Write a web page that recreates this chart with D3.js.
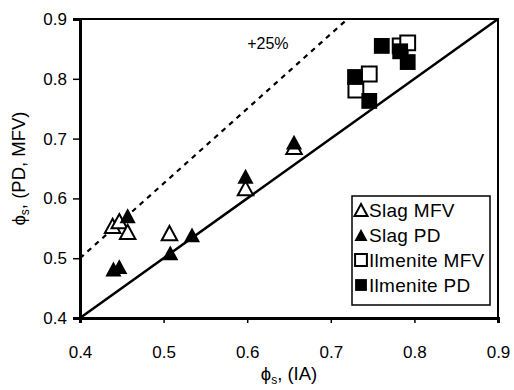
<!DOCTYPE html>
<html>
<head>
<meta charset="utf-8">
<script src="https://cdn.jsdelivr.net/npm/d3@7"></script>
<style>
  body { margin: 0; background: #fff; }
  svg { font-family: "Liberation Sans", Arial, Helvetica, sans-serif; }
</style>
</head>
<body>
<div id="chart"></div>
<script>
// values: [phi_s (IA), phi_s (PD or MFV)]
var slagMFV = [[0.439, 0.554], [0.447, 0.562], [0.457, 0.544], [0.507, 0.542], [0.598, 0.617], [0.656, 0.686]];
var slagPD = [[0.440, 0.482], [0.447, 0.486], [0.457, 0.571], [0.508, 0.509], [0.534, 0.539], [0.598, 0.637], [0.656, 0.694]];
var ilmMFV = [[0.730, 0.781], [0.746, 0.808], [0.783, 0.855], [0.792, 0.860]];
var ilmPD = [[0.729, 0.803], [0.746, 0.763], [0.761, 0.855], [0.783, 0.846], [0.792, 0.828]];
var xTicks = [0.4, 0.5, 0.6, 0.7, 0.8, 0.9];
var yTicks = [0.4, 0.5, 0.6, 0.7, 0.8, 0.9];
var parityLine = [[0.4, 0.4], [0.9, 0.9]];
var plus25Line = [[0.4, 0.5], [0.72, 0.9]];
var legendNames = ["Slag MFV", "Slag PD", "Ilmenite MFV", "Ilmenite PD"];

var margin = { top: 19, right: 16, bottom: 72, left: 80 },
    width = 514 - margin.left - margin.right,
    height = 390 - margin.top - margin.bottom;

var svg = d3.select("#chart")
    .append("svg")
    .attr("width", 514)
    .attr("height", 390);

var g = svg.append("g")
    .attr("transform", "translate(" + margin.left + "," + margin.top + ")");

var x = d3.scaleLinear().domain([0.4, 0.9]).range([0, width]);
var y = d3.scaleLinear().domain([0.4, 0.9]).range([height, 0]);

// triangle centred on its bounding box
var triType = {
    draw: function(ctx, size) {
        var s = Math.sqrt(size);
        var h = s * 0.92;
        ctx.moveTo(0, -h / 2);
        ctx.lineTo(s / 2, h / 2);
        ctx.lineTo(-s / 2, h / 2);
        ctx.closePath();
    }
};
var sqType = {
    draw: function(ctx, size) {
        var s = Math.sqrt(size);
        ctx.rect(-s / 2, -s / 2, s, s);
    }
};

// frame
g.append("rect")
    .attr("x", 0).attr("y", 0)
    .attr("width", width).attr("height", height)
    .attr("fill", "none")
    .attr("stroke", "#000")
    .attr("stroke-width", 2);

// axes
var xAxis = g.append("g")
    .attr("transform", "translate(0," + height + ")")
    .call(d3.axisBottom(x).tickValues(xTicks).tickSize(5).tickPadding(35).tickFormat(d3.format(".1f")));
var yAxis = g.append("g")
    .call(d3.axisLeft(y).tickValues(yTicks).tickSize(7).tickPadding(6).tickFormat(d3.format(".1f")));

[xAxis, yAxis].forEach(function(a) {
    a.select(".domain").attr("stroke-width", 3);
    a.selectAll(".tick line").attr("stroke-width", 1.5);
    a.selectAll(".tick text")
        .attr("font-family", "Liberation Sans, Arial, sans-serif")
        .style("font-size", "17px")
        .attr("fill", "#000");
});
xAxis.selectAll(".tick text").attr("dy", "0em");

// lines
var line = d3.line()
    .x(function(d) { return x(d[0]); })
    .y(function(d) { return y(d[1]); });

g.append("path")
    .datum(parityLine)
    .attr("d", line)
    .attr("fill", "none")
    .attr("stroke", "#000")
    .attr("stroke-width", 2.5);

g.append("path")
    .datum(plus25Line)
    .attr("d", line)
    .attr("fill", "none")
    .attr("stroke", "#000")
    .attr("stroke-width", 2.2)
    .attr("stroke-dasharray", "5,5");

g.append("text")
    .attr("x", x(0.6))
    .attr("y", y(0.85))
    .style("font-size", "16px")
    .text("+25%");

// points
var series = [
    { data: slagMFV, type: triType, size: 240, fill: "#fff" },
    { data: slagPD, type: triType, size: 260, fill: "#000" },
    { data: ilmMFV, type: sqType, size: 220, fill: "#fff" },
    { data: ilmPD, type: sqType, size: 250, fill: "#000" }
];

series.forEach(function(s) {
    g.selectAll(null)
        .data(s.data)
        .enter()
        .append("path")
        .attr("transform", function(d) { return "translate(" + x(d[0]) + "," + y(d[1]) + ")"; })
        .attr("d", d3.symbol().type(s.type).size(s.size))
        .attr("fill", s.fill)
        .attr("stroke", "#000")
        .attr("stroke-width", s.fill === "#000" ? 0 : 2);
});

// legend
var legend = g.append("g")
    .attr("transform", "translate(272,177)");

legend.append("rect")
    .attr("x", 0).attr("y", 0)
    .attr("width", 138).attr("height", 109)
    .attr("fill", "#fff")
    .attr("stroke", "#000")
    .attr("stroke-width", 1.5);

legend.selectAll(".item")
    .data(legendNames)
    .enter()
    .append("g")
    .attr("class", "item")
    .attr("transform", function(d, i) { return "translate(0," + (14 + i * 25) + ")"; })
    .each(function(d, i) {
        var it = d3.select(this);
        var s = series[i];
        it.append("path")
            .attr("transform", "translate(9,0)")
            .attr("d", d3.symbol().type(s.type).size(s.type === triType ? 170 : 140))
            .attr("fill", s.fill)
            .attr("stroke", "#000")
            .attr("stroke-width", s.fill === "#000" ? 0 : 2);
        it.append("text")
            .attr("x", 17)
            .attr("y", 0)
            .attr("dy", "0.36em")
            .style("font-size", "19px")
            .style("letter-spacing", "0.3px")
            .text(d);
    });

// axis titles
var xt = svg.append("text")
    .attr("x", margin.left + width / 2)
    .attr("y", 380)
    .attr("text-anchor", "middle")
    .style("font-size", "18.5px");
xt.append("tspan").text("\u03D5");
xt.append("tspan").attr("dy", 4).style("font-size", "12px").text("s");
xt.append("tspan").attr("dy", -4).text(", (IA)");

var yt = svg.append("text")
    .attr("transform", "translate(25," + (margin.top + height / 2) + ") rotate(-90)")
    .attr("text-anchor", "middle")
    .style("font-size", "18.5px");
yt.append("tspan").text("\u03D5");
yt.append("tspan").attr("dy", 4).style("font-size", "12px").text("s");
yt.append("tspan").attr("dy", -4).text(", (PD, MFV)");
</script>
</body>
</html>
